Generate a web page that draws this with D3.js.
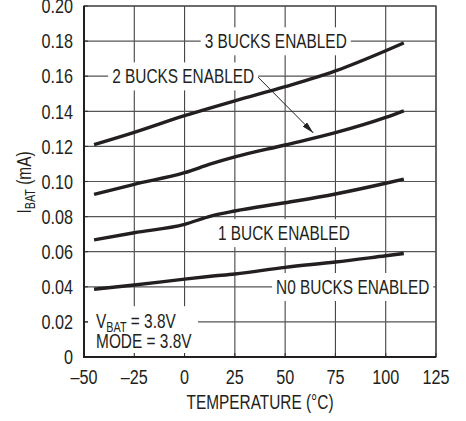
<!DOCTYPE html>
<meta charset="utf-8">
<style>
body { margin: 0; background: #fff; }
svg text { font-family: "Liberation Sans Narrow", "Arial Narrow", "Liberation Sans", Arial, sans-serif; fill: #231f20; }
.tick-label { font-size: 20px; }
.note { font-size: 20px; }
</style>
<script src="https://d3js.org/d3.v7.min.js"></script>
<div id="chart"></div>
<script>

// temperatures (°C) where the curves were read
var temps = [-45, -25, 0, 13, 25, 50, 75, 100, 109];
// I_BAT in mA
var bucks3 = [0.121, 0.128, 0.1375, 0.142, 0.146, 0.154, 0.163, 0.1745, 0.179];
var bucks2 = [0.0927, 0.0984, 0.105, 0.110, 0.114, 0.1208, 0.1278, 0.1365, 0.1403];
var bucks1 = [0.0667, 0.0708, 0.0756, 0.0803, 0.0832, 0.0879, 0.0929, 0.099, 0.1014];
var bucks0 = [0.0386, 0.041, 0.0444, 0.046, 0.0473, 0.0511, 0.0541, 0.0577, 0.059];

var xTicks = [-50, -25, 0, 25, 50, 75, 100, 125];
var yTicks = [0, 0.02, 0.04, 0.06, 0.08, 0.10, 0.12, 0.14, 0.16, 0.18, 0.20];

var margin = {top: 6, right: 30, bottom: 64, left: 84},
    width = 466 - margin.left - margin.right,
    height = 421 - margin.top - margin.bottom;

var svg = d3.select("#chart")
  .append("svg")
    .attr("width", 466)
    .attr("height", 421)
  .append("g")
    .attr("transform", "translate(" + margin.left + "," + margin.top + ")");

var x = d3.scaleLinear().domain([-50, 125]).range([0, width]);
var y = d3.scaleLinear().domain([0, 0.2]).range([height, 0]);

// the reference uses a condensed face; squeeze the regular one
function narrow(sel, k) {
  sel.each(function() {
    var len = this.getComputedTextLength();
    d3.select(this)
      .attr("textLength", len * (k || 0.77))
      .attr("lengthAdjust", "spacingAndGlyphs");
  });
}

// grid
svg.append("g")
  .selectAll("line")
  .data(xTicks)
  .enter().append("line")
    .attr("x1", function(d) { return x(d); })
    .attr("x2", function(d) { return x(d); })
    .attr("y1", 0).attr("y2", height)
    .attr("stroke", "#444").attr("stroke-width", 1.1);

svg.append("g")
  .selectAll("line")
  .data(yTicks)
  .enter().append("line")
    .attr("x1", 0).attr("x2", width)
    .attr("y1", function(d) { return y(d); })
    .attr("y2", function(d) { return y(d); })
    .attr("stroke", "#555").attr("stroke-width", 1.2);

// labels with white boxes
var labels = [
  {t: "3 BUCKS ENABLED", x: 10, y: 0.18},
  {t: "2 BUCKS ENABLED", x: -36, y: 0.16},
  {t: "1 BUCK ENABLED", x: 16.6, y: 0.0707},
  {t: "N0 BUCKS ENABLED", x: 45.5, y: 0.04}
];

var lab = svg.append("g");
labels.forEach(function(d) {
  var g = lab.append("g");
  var box = g.append("rect").attr("fill", "#fff");
  var t = g.append("text")
    .attr("class", "note")
    .attr("x", x(d.x))
    .attr("y", y(d.y))
    .attr("dy", "0.36em")
    .text(d.t)
    .call(narrow);
  var b = t.node().getBBox();
  box.attr("x", b.x - 4).attr("y", b.y - 3)
     .attr("width", b.width + 8).attr("height", b.height + 6);
});

// conditions box
var cond = svg.append("g");
var condBox = cond.append("rect").attr("fill", "#fff");
var c1 = cond.append("text").attr("class", "note")
  .attr("x", x(-44)).attr("y", y(0.0205)).attr("dy", "0.36em");
c1.append("tspan").text("V");
c1.append("tspan").attr("font-size", "14px").attr("dy", "4").text("BAT");
c1.append("tspan").attr("dy", "-4").text(" = 3.8V");
c1.call(narrow);
cond.append("text").attr("class", "note")
  .attr("x", x(-44)).attr("y", y(0.0095)).attr("dy", "0.36em")
  .text("MODE = 3.8V")
  .call(narrow);
var cb = cond.node().getBBox();
condBox.attr("x", cb.x - 8).attr("y", cb.y - 4)
  .attr("width", cb.width + 14).attr("height", height - cb.y + 4);

// curves
var line = d3.line()
  .x(function(d) { return x(d[0]); })
  .y(function(d) { return y(d[1]); })
  .curve(d3.curveMonotoneX);

[bucks3, bucks2, bucks1, bucks0].forEach(function(s) {
  svg.append("path")
    .datum(d3.zip(temps, s))
    .attr("fill", "none")
    .attr("stroke", "#231f20")
    .attr("stroke-width", 3.4)
    .attr("d", line);
});

// arrow from the 2 bucks label to its curve
svg.append("defs").append("marker")
    .attr("id", "head")
    .attr("viewBox", "0 0 12 6")
    .attr("refX", 12).attr("refY", 3)
    .attr("markerWidth", 12).attr("markerHeight", 6)
    .attr("markerUnits", "userSpaceOnUse")
    .attr("orient", "auto")
  .append("path")
    .attr("d", "M0,0L12,3L0,6Z")
    .attr("fill", "#231f20");

svg.append("line")
  .attr("x1", x(36.5)).attr("y1", y(0.1595))
  .attr("x2", x(64)).attr("y2", y(0.1277))
  .attr("stroke", "#231f20").attr("stroke-width", 1)
  .attr("marker-end", "url(#head)");

// inward ticks on left and bottom
svg.append("g").selectAll("line").data(xTicks).enter().append("line")
  .attr("x1", function(d) { return x(d); }).attr("x2", function(d) { return x(d); })
  .attr("y1", height).attr("y2", height - 4)
  .attr("stroke", "#333").attr("stroke-width", 1.1);
svg.append("g").selectAll("line").data(yTicks).enter().append("line")
  .attr("x1", 0).attr("x2", 4)
  .attr("y1", function(d) { return y(d); }).attr("y2", function(d) { return y(d); })
  .attr("stroke", "#333").attr("stroke-width", 1.1);

// frame
svg.append("rect")
  .attr("width", width).attr("height", height)
  .attr("fill", "none").attr("stroke", "#444").attr("stroke-width", 1.2);
svg.append("path")
  .attr("d", "M0,0V" + height + "H" + width)
  .attr("fill", "none").attr("stroke", "#231f20").attr("stroke-width", 2);

// tick labels
svg.append("g").selectAll("text").data(yTicks).enter().append("text")
  .attr("class", "tick-label")
  .attr("x", -11)
  .attr("y", function(d) { return y(d); })
  .attr("dy", "0.36em")
  .attr("text-anchor", "end")
  .text(function(d) { return d === 0 ? "0" : d3.format(".2f")(d); })
  .call(narrow, 0.81);

svg.append("g").selectAll("text").data(xTicks).enter().append("text")
  .attr("class", "tick-label")
  .attr("x", function(d) { return x(d); })
  .attr("y", height + 27)
  .attr("text-anchor", "middle")
  .text(function(d) { return d < 0 ? "\u2013" + (-d) : d; })
  .call(narrow, 0.81);

// axis titles
svg.append("text")
  .attr("class", "note")
  .attr("x", width / 2)
  .attr("y", height + 52)
  .attr("text-anchor", "middle")
  .text("TEMPERATURE (°C)")
  .call(narrow);

var yt = svg.append("text")
  .attr("class", "note")
  .attr("transform", "translate(-53," + (height / 2 + 1) + ") rotate(-90)")
  .attr("text-anchor", "middle");
yt.append("tspan").text("I");
yt.append("tspan").attr("font-size", "14px").attr("dy", "4").text("BAT");
yt.append("tspan").attr("dy", "-4").text(" (mA)");
yt.call(narrow);

</script>
